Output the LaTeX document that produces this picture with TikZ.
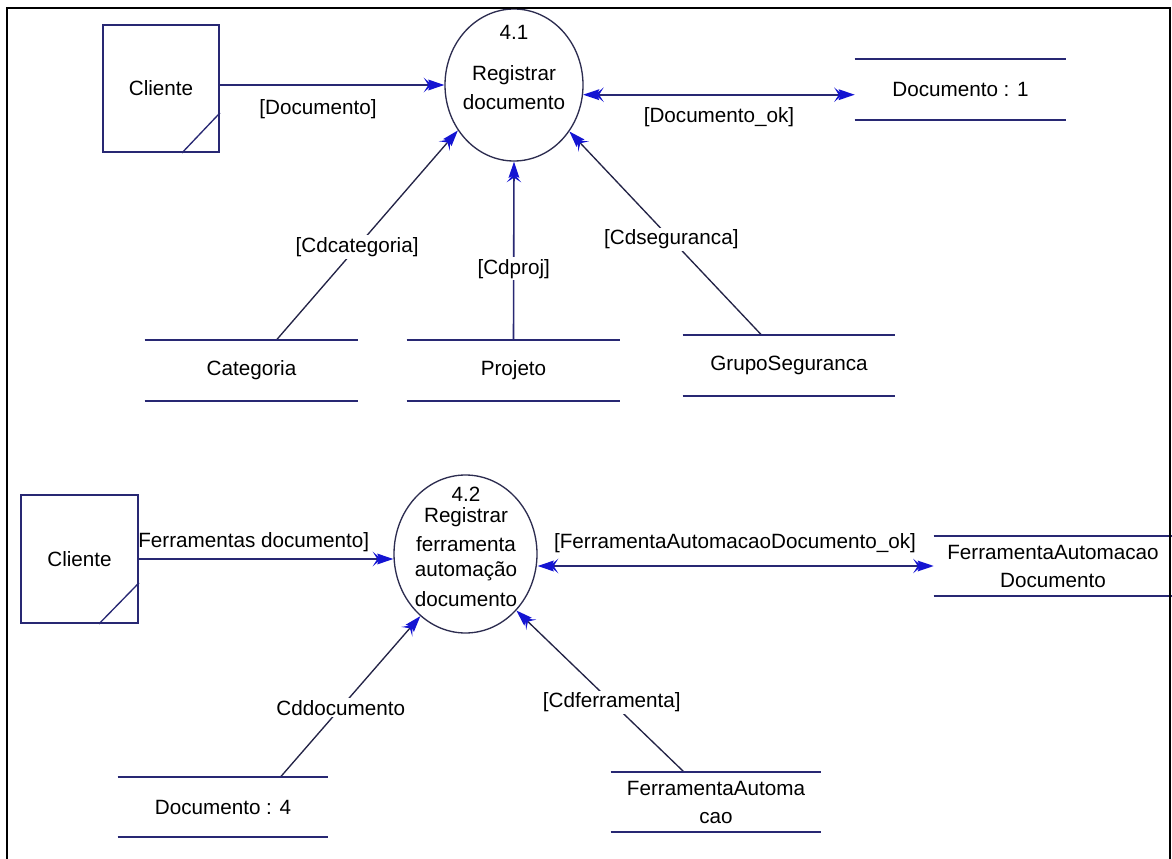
\documentclass[tikz,border=0pt]{standalone}
\usepackage{fontspec}
\setmainfont{Liberation Sans}
\usetikzlibrary{arrows.meta,shapes.geometric,calc}
\definecolor{navy}{RGB}{40,40,115}
\definecolor{tipblue}{RGB}{20,20,210}
\definecolor{circ}{RGB}{45,45,80}
\definecolor{thin}{RGB}{35,35,70}
\begin{document}
\begin{tikzpicture}[x=0.75pt,y=-0.75pt,
  tfont/.style={font=\fontsize{15.5}{21}\selectfont},
  txt/.style={tfont, inner sep=0pt, align=center},
  extbox/.style={tfont, draw=navy, line width=1.4pt, inner sep=0pt, align=center},
  proc/.style={ellipse, draw=circ, line width=1pt, inner sep=0pt},
  store/.style={tfont, inner sep=0pt, align=center, minimum height=45pt},
  storeline/.style={draw=navy, line width=1.5pt},
  lbl/.style={tfont, fill=white, inner sep=1.5pt},
  flow/.style={draw=navy, line width=1.2pt,
    -{Stealth[length=6.5pt,width=11pt,inset=3.5pt,color=tipblue,sep=-3pt]Stealth[length=12pt,width=8pt,inset=1.5pt,color=tipblue]}},
  dflow/.style={draw=navy, line width=1.2pt,
    {Stealth[length=12pt,width=8pt,inset=1.5pt,color=tipblue]Stealth[length=6.5pt,width=11pt,inset=3.5pt,color=tipblue,sep=-3pt]}-{Stealth[length=6.5pt,width=11pt,inset=3.5pt,color=tipblue,sep=-3pt]Stealth[length=12pt,width=8pt,inset=1.5pt,color=tipblue]}},
  sflow/.style={draw=thin, line width=1pt,
    -{Stealth[length=6.5pt,width=11pt,inset=3.5pt,color=tipblue,sep=-3pt]Stealth[length=12pt,width=8pt,inset=1.5pt,color=tipblue]}}
]
\useasboundingbox (0,0) rectangle (1172,859);
\fill[white] (0,0) rectangle (1172,859);

% ---------- upper diagram ----------
\node[extbox, minimum width=87pt, minimum height=95.25pt] (cli1) at (161,88.5) {Cliente};
\draw[navy, line width=1pt] ($(cli1.south east)+(0,-40)$) -- ($(cli1.south east)+(-38,0)$);

\node[proc, minimum width=103.5pt, minimum height=114pt] (p41) at (514,85) {};
\node[txt] (p41n) at (514,32) {4.1};
\node[txt] (p41a) at (514,75) {Registrar};
\node[txt] (p41b) at (514,102) {documento};

\node[store, minimum width=158.25pt] (doc1) at (960.5,89.5) {Documento : 1};
\node[store, minimum width=159.75pt] (cat) at (251.5,370.5) {Categoria};
\node[store, minimum width=159.75pt] (proj) at (513.5,370.5) {Projeto};
\node[store, minimum width=159pt] (grp) at (789,365.5) {GrupoSeguranca};

\draw[flow] (cli1.east |- p41.west) -- (p41.west);
\node[txt] (lDoc) at (318,109) {[Documento]};

\draw[dflow] (p41.-8) -- (p41.-8 -| doc1.west);
\node[txt] (lDocOk) at (719,117) {[Documento\_ok]};

\draw[sflow] ($(cat.north west)+(131.5,0)$) -- node[lbl, pos=0.445] (lCat) {[Cdcategoria]} (p41.219);
\draw[flow] (proj.north) -- node[lbl, pos=0.40] (lProj) {[Cdproj]} (p41.south);
\draw[sflow] ($(grp.north west)+(79,0)$) -- node[lbl, pos=0.47] (lGrp) {[Cdseguranca]} (p41.-40.4);

% ---------- lower diagram ----------
\node[extbox, minimum width=87.75pt, minimum height=96pt] (cli2) at (79.5,559) {Cliente};
\draw[navy, line width=1pt] ($(cli2.south east)+(0,-41)$) -- ($(cli2.south east)+(-40,0)$);

\node[proc, minimum width=107.25pt, minimum height=118.5pt] (p42) at (465.5,554) {};
\node[txt] (p42n) at (466,494) {4.2};
\node[txt] (p42a) at (466,517) {Registrar};
\node[txt] (p42b) at (466,544) {ferramenta};
\node[txt] (p42c) at (466,571) {automação};
\node[txt] (p42d) at (466,599) {documento};

\node[store, minimum width=178.5pt] (fad) at (1053,566) {FerramentaAutomacao\\Documento};
\node[store, minimum width=157.5pt] (doc4) at (223,807) {Documento : 4};
\node[store, minimum width=157.5pt] (fa) at (716,802) {FerramentaAutoma\\cao};

\draw[flow] (cli2.east) -- (cli2.east -| p42.west);
\node[txt, anchor=west] (lFer) at (138,542) {Ferramentas documento]};

\draw[dflow] (p42.east |- fad.west) -- (fad.west);
\node[txt] (lFadOk) at (735,543) {[FerramentaAutomacaoDocumento\_ok]};

\draw[sflow] ($(doc4.north west)+(163,0)$) -- node[lbl, pos=0.43] (lDoc4) {Cddocumento} (p42.234);
\draw[sflow] ($(fa.north west)+(73,0)$) -- node[lbl, pos=0.43] (lFa) {[Cdferramenta]} (p42.-48);

% store lines
\foreach \n in {doc1,cat,proj,grp,fad,doc4,fa}
  \draw[storeline] (\n.north west) -- (\n.north east) (\n.south west) -- (\n.south east);

% frame
\draw[black, line width=1.6pt] (7,862) -- (7,8) -- (1170,8) -- (1170,862);
\end{tikzpicture}
\end{document}
